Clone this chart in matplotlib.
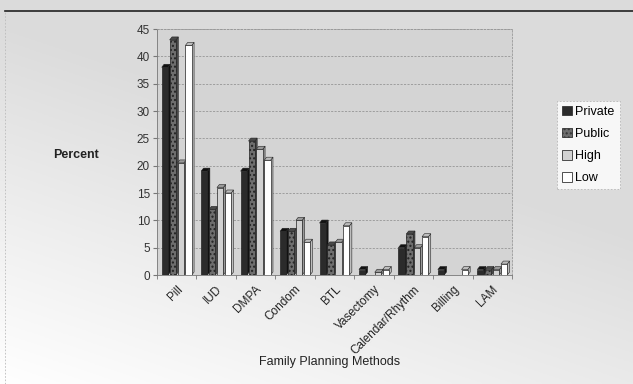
import numpy as np
import matplotlib
matplotlib.use("Agg")
import matplotlib.pyplot as plt
from matplotlib.patches import Polygon, Patch

plt.rcParams["font.family"] = ["Liberation Sans", "DejaVu Sans"]

categories = ["Pill", "IUD", "DMPA", "Condom", "BTL", "Vasectomy",
              "Calendar/Rhythm", "Billing", "LAM"]
series_names = ["Private", "Public", "High", "Low"]
private = [38, 19, 19, 8, 9.5, 1, 5, 1, 1]
public = [43, 12, 24.5, 8, 5.5, 0, 7.5, 0, 1]
high = [20.5, 16, 23, 10, 6, 0.5, 5, 0, 1]
low = [42, 15, 21, 6, 9, 1, 7, 1, 2]
yticks = [0, 5, 10, 15, 20, 25, 30, 35, 40, 45]

values = [private, public, high, low]
face = ["#2b2b2b", "#6e6e6e", "#d2d2d2", "#ffffff"]
side = ["#111111", "#4a4a4a", "#9a9a9a", "#bdbdbd"]
hatches = [None, "....", None, None]

fig = plt.figure(figsize=(6.33, 3.84), dpi=100)

# background gradient (light grey, fading to white at bottom-left)
bg = fig.add_axes([0, 0, 1, 1], zorder=-10)
yy, xx = np.mgrid[0:1:200j, 0:1:300j]
g = 0.86 + 0.14 * np.clip((1 - yy) * 0.9 + (1 - xx) * 0.5 - 0.55, 0, 1) / 0.85
img = np.dstack([g, g, g])
bg.imshow(img, origin="lower", extent=[0, 1, 0, 1], aspect="auto")
bg.set_xlim(0, 1)
bg.set_ylim(0, 1)
bg.axis("off")
bg.plot([0.008, 1.0], [1 - 11 / 384, 1 - 11 / 384], color="#222222", lw=1.2)
bg.plot([0.008, 0.008], [0, 1 - 11 / 384], color="#bbbbbb", lw=0.6, ls=(0, (2, 2)))

ax = fig.add_axes([157 / 633, 1 - 275 / 384, (512 - 157) / 633, (275 - 29) / 384])
ax.set_facecolor("#d4d4d4")
n = len(categories)
x = np.arange(n)
w = 0.2
dx = 0.06
dy = 0.55
for i, vals in enumerate(values):
    pos = x - 0.4 + w * i + 0.02
    ax.bar(pos, vals, width=w - 0.04, align="edge", color=face[i],
           edgecolor="#222222", linewidth=0.5, hatch=hatches[i], zorder=3)
    for p, v in zip(pos, vals):
        if v <= 0:
            continue
        right = p + w - 0.04
        ax.add_patch(Polygon([[right, 0], [right + dx, dy], [right + dx, v + dy], [right, v]],
                             closed=True, facecolor=side[i], edgecolor="#222222",
                             lw=0.4, zorder=2))
        ax.add_patch(Polygon([[p, v], [p + dx, v + dy], [right + dx, v + dy], [right, v]],
                             closed=True, facecolor=side[i], edgecolor="#222222",
                             lw=0.4, zorder=2))

ax.set_xlim(-0.5, n - 0.5)
ax.set_ylim(0, 45)
ax.set_yticks(yticks)
ax.set_yticklabels([str(t) for t in yticks], fontsize=8.5, color="#333333")
ax.set_xticks(x)
ax.set_xticklabels(categories, rotation=45, ha="right", rotation_mode="anchor",
                   fontsize=8.5, color="#222222")
ax.tick_params(axis="x", length=0, pad=6)
ax.tick_params(axis="y", length=3, color="#777777", pad=2)
ax.set_xticks(np.arange(n + 1) - 0.5, minor=True)
ax.tick_params(axis="x", which="minor", length=3, color="#777777")
ax.grid(axis="y", color="#888888", ls=(0, (3, 2)), lw=0.5, zorder=0)
for s in ["top", "right"]:
    ax.spines[s].set_color("#999999")
    ax.spines[s].set_linestyle((0, (2, 2)))
    ax.spines[s].set_linewidth(0.6)
for s in ["left", "bottom"]:
    ax.spines[s].set_color("#777777")
    ax.spines[s].set_linewidth(0.6)

fig.text(76 / 633, 1 - 155 / 384, "Percent", fontsize=9, fontweight="bold",
         color="#222222", ha="center", va="center")
fig.text(330 / 633, 1 - 362 / 384, "Family Planning Methods", fontsize=9,
         color="#222222", ha="center", va="center")

handles = [Patch(facecolor=face[i], edgecolor="#333333", hatch=hatches[i], lw=0.6)
           for i in range(4)]
leg = fig.legend(handles, series_names, loc="center", bbox_to_anchor=(588 / 633, 1 - 145 / 384),
                 fontsize=9, frameon=True, fancybox=False, handlelength=0.8,
                 handleheight=0.8, handletextpad=0.3, labelspacing=0.8,
                 borderpad=0.4)
leg.get_frame().set_edgecolor("#aaaaaa")
leg.get_frame().set_linestyle((0, (2, 2)))
leg.get_frame().set_linewidth(0.6)
leg.get_frame().set_facecolor("#ffffff")

fig.savefig("out.png", dpi=100)
